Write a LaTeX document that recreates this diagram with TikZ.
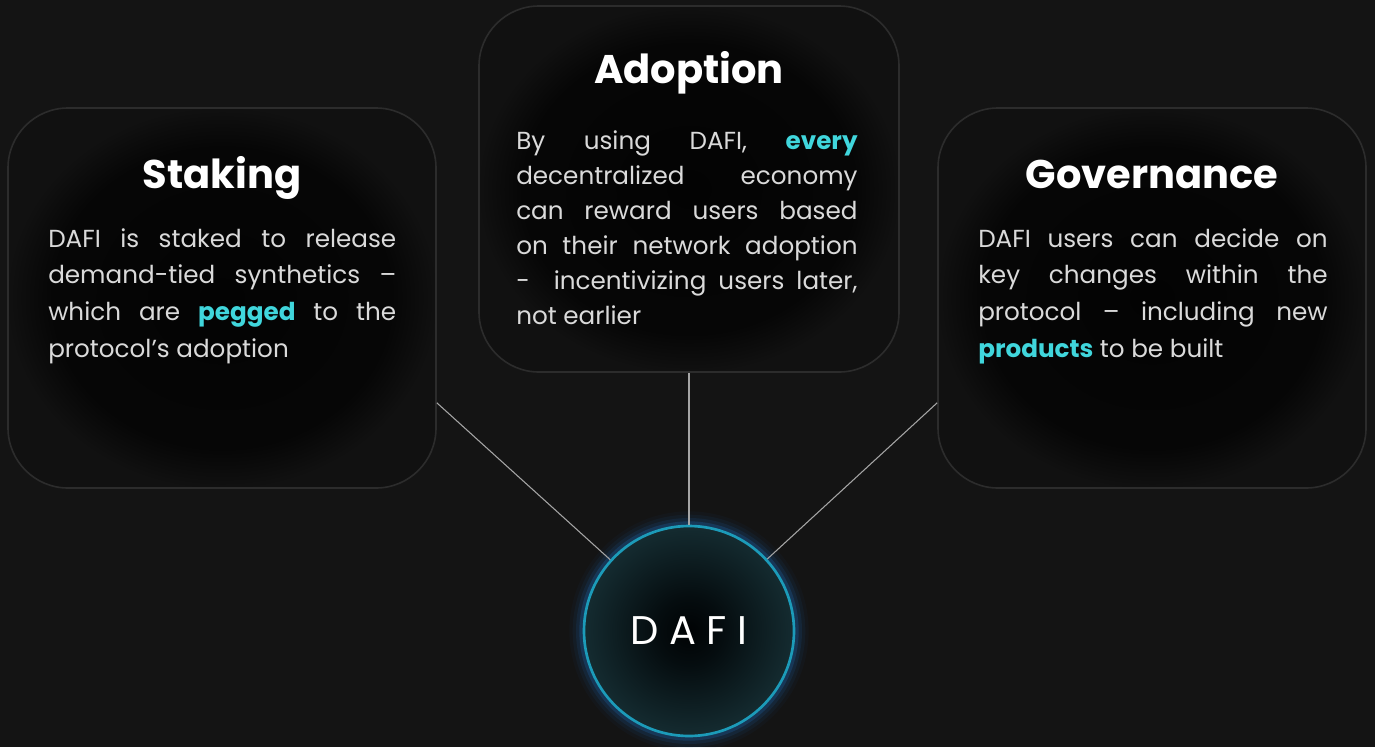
\documentclass[tikz,border=0pt]{standalone}
\usepackage{fontspec}
\setmainfont{Poppins}
\usetikzlibrary{positioning}
\definecolor{bgcol}{RGB}{20,20,20}
\definecolor{boxline}{RGB}{44,44,44}
\definecolor{bodytext}{RGB}{218,218,218}
\definecolor{hilite}{RGB}{64,214,220}
\definecolor{ringcol}{RGB}{28,155,185}
\definecolor{glowcol}{RGB}{30,95,160}
\definecolor{linkcol}{RGB}{165,165,165}
\pgfdeclareradialshading{boxshade}{\pgfpoint{0bp}{0bp}}{rgb(0bp)=(0.012,0.012,0.012); rgb(20bp)=(0.025,0.025,0.025); rgb(25bp)=(0.065,0.065,0.065); rgb(50bp)=(0.075,0.075,0.075)}
\pgfdeclareradialshading{coreshade}{\pgfpoint{0bp}{0bp}}{rgb(0bp)=(0.0,0.01,0.015); rgb(8bp)=(0.02,0.05,0.06); rgb(25bp)=(0.08,0.17,0.19); rgb(50bp)=(0.08,0.17,0.19)}
\newcommand{\keyword}[1]{{\bfseries\color{hilite}#1}}

\begin{document}
\begin{tikzpicture}[x=0.75pt,y=-0.75pt,
	card/.style={draw=boxline, line width=1.2pt, rounded corners=45pt, shade, shading=boxshade},
	cardtitle/.style={anchor=base, inner sep=0pt, text=white, font=\fontsize{30}{36}\selectfont\bfseries},
	cardbody/.style={anchor=north west, inner sep=0pt, align=justify, text=bodytext, font=\fontsize{18.5}{27.5}\selectfont},
	link/.style={draw=linkcol, line width=0.8pt},
	core/.style={circle, draw=ringcol, line width=2pt, shade, shading=coreshade, minimum size=157.5pt, inner sep=0pt, text=white, font=\fontsize{30}{34}\selectfont}]
	\path[use as bounding box, fill=bgcol] (0,0) rectangle (1375,747);
	\node[card, minimum width=321pt, minimum height=285pt] (staking) at (222,298) {};
	\node[card, minimum width=315pt, minimum height=274.5pt] (adoption) at (689,189) {};
	\node[card, minimum width=321pt, minimum height=285pt] (governance) at (1152,298) {};
	\node[cardtitle] (stakingtitle) at (222,188) {Staking};
	\node[cardtitle] (adoptiontitle) at (689,83) {Adoption};
	\node[cardtitle] (governancetitle) at (1152,188) {Governance};
	\node[cardbody, text width=261pt] (stakingtext) at (48,228) {DAFI is staked to release\linebreak demand-tied synthetics –\linebreak which are \keyword{pegged} to the\linebreak protocol’s adoption};
	\node[cardbody, text width=256pt, font=\fontsize{18.5}{26.25}\selectfont] (adoptiontext) at (516,130) {By using DAFI, \keyword{every}\linebreak decentralized economy\linebreak can reward users based\linebreak on their network adoption\linebreak -~~incentivizing users later,\linebreak not earlier};
	\node[cardbody, text width=262pt] (governancetext) at (978,228) {DAFI users can decide on\linebreak key changes within the\linebreak protocol – including new\linebreak \keyword{products} to be built};
	\coordinate (hub) at (689,631);
	\foreach \w/\o in {22/0.05,17/0.09,12/0.15,7/0.3}
		\draw[glowcol, line width=\w pt, opacity=\o] (hub) circle (78.75pt);
	\node[core] (dafi) at (hub) {D\kern8pt A\kern8pt F\kern8pt I};
	\draw[link] (staking.-26.6) -- (dafi);
	\draw[link] (adoption.south) -- (dafi);
	\draw[link] (governance.206.6) -- (dafi);
\end{tikzpicture}
\end{document}
